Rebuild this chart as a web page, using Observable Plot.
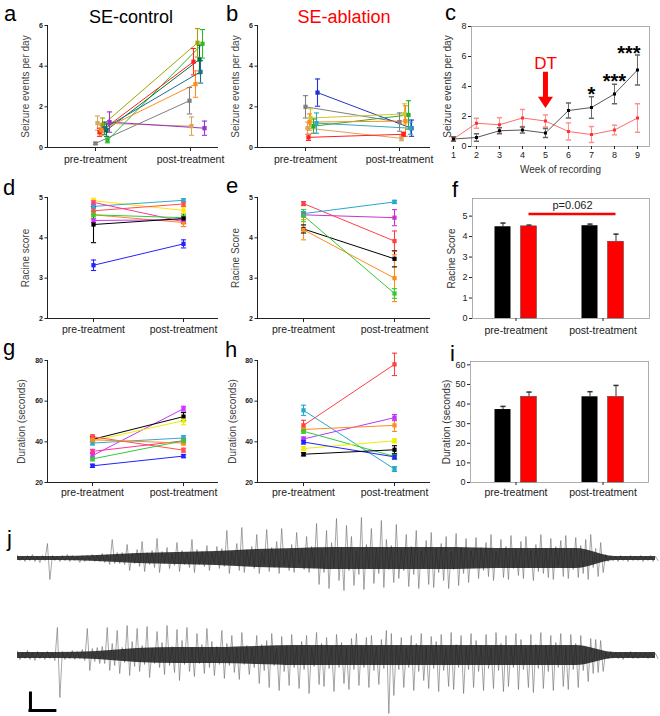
<!DOCTYPE html>
<html><head><meta charset="utf-8">
<script src="https://cdn.jsdelivr.net/npm/d3@7"></script>
<script src="https://cdn.jsdelivr.net/npm/@observablehq/plot@0.6"></script>
<style>
body{margin:0;background:#fff;}
#fig{position:relative;width:660px;height:716px;overflow:hidden;background:#fff;font-family:"Liberation Sans",Arial,sans-serif;}
#fig > div.p{position:absolute;}
</style></head><body><div id="fig"></div><script>
// ---------------- DATA ----------------
const phases = ["pre-treatment", "post-treatment"];
const groups = ["SE-control", "SE-ablation"];
const panelLetters = ["a","b","c","d","e","f","g","h","i","j"];

// a: SE-control, seizure events per day (mean, SEM) per animal
const aColors = ["#808080","#d9a65c","#9933cc","#a3a300","#2eb82e","#00703c","#ff2020","#1f6f8b","#ff8c1a"];
const aPre     = [0.2, 1.2, 1.25, 1.1, 0.35, 0.85, 0.75, 0.95, 0.85];
const aPreErr  = [0.05,0.35,0.5, 0.35,0.12, 0.3, 0.2, 0.3, 0.25];
const aPost    = [2.3, 1.05,0.95, 5.15,5.1, 4.33, 4.22,3.72, 3.12];
const aPostErr = [0.65,0.45,0.35,0.7, 0.7, 0.7, 0.65,0.55, 0.65];

// b: SE-ablation, seizure events per day
const bColors = ["#808080","#2233cc","#c8c832","#2eaa2e","#ff8c1a","#33aabb","#d9a65c","#ff2020"];
const bPre     = [2.0, 2.7, 1.45,1.05,1.25,1.2, 0.95,0.5];
const bPreErr  = [0.55,0.67,0.45,0.35,0.4, 0.5, 0.3, 0.15];
const bPost    = [1.25,0.95,1.65,1.6, 1.3, 0.95,0.45,0.65];
const bPostErr = [0.45,0.4, 0.5, 0.7, 0.75,0.3, 0.12,0.1];

// c: weekly seizure events per day
const weeks    = [1,2,3,4,5,6,7,8,9];
const cCtrl    = [0.5, 0.6, 1.05,1.1, 0.9, 2.4, 2.6, 3.5, 5.1];
const cCtrlErr = [0.15,0.25,0.2, 0.2, 0.3, 0.5, 0.72,0.65,1.0];
const cAbl     = [0.5, 1.55,1.45,1.9, 1.7, 1.0, 0.8, 1.1, 1.9];
const cAblErr  = [0.1, 0.33,0.47,0.57,0.4, 0.57,0.53,0.32,0.95];
const cStars   = [{w:7, y:3.8, label:"*"}, {w:8, y:4.67, label:"***"}, {w:8.63, y:6.5, label:"***"}];
const cDT      = {w:5, text:"DT", label:5.55, top:4.95, shaftEnd:3.2, head:2.95};

// d: SE-control Racine score
const dColors = ["#ffe600","#33aacc","#ff5050","#ff3399","#ff8c1a","#33cc33","#cc33ff","#000000","#2222ff"];
const dPre     = [4.92,4.78,4.67,4.88,4.57,4.57,4.43,4.33,3.32];
const dPreErr  = [0.06,0.05,0.08,0.05,0.1, 0.08,0.05,0.45,0.13];
const dPost    = [4.68,4.93,4.84,4.4, 4.38,4.5, 4.45,4.48,3.85];
const dPostErr = [0.08,0.04,0.06,0.12,0.1, 0.06,0.05,0.12,0.1];

// e: SE-ablation Racine score
const eColors = ["#ff4040","#22aacc","#cc33cc","#000000","#ff8c1a","#33cc33"];
const ePre     = [4.85,4.6, 4.57,4.22,4.2, 4.55];
const ePreErr  = [0.05,0.05,0.05,0.1, 0.25,0.15];
const ePost    = [3.92,4.89,4.5, 3.48,3.0, 2.62];
const ePostErr = [0.25,0.04,0.2, 0.2, 0.58,0.12];

// f: group Racine score [pre, post] x [control, ablation]
const fVals = [[4.48, 4.5], [4.53, 3.75]];
const fErrs = [[0.18, 0.06], [0.08, 0.37]];
const fSig  = {label:"p=0.062", y:5.1};

// g: SE-control duration (s)
const gColors = ["#cc33ff","#000000","#eeee00","#33aacc","#ff5050","#ff3399","#ff8c1a","#33cc33","#2222ff"];
const gPre     = [33.2,41.2,40.5,39.4,42.5,35.3,41, 31.6,28.2];
const gPreErr  = [1.5, 1.5, 1,   1,   1,   1,   1,   1,   0.8];
const gPost    = [56.3,52.4,50.4,41.9,35.9,40.5,39.4,40.5,33];
const gPostErr = [1.2, 2,   2,   1.2, 1,   1.2, 1,   1,   0.8];

// h: SE-ablation duration (s)
const hColors = ["#ff4040","#22aacc","#bb33ff","#ff8c1a","#33cc33","#eeee00","#2222ff","#000000"];
const hPre     = [48.1,55.5,41.4,46.1,45.2,36.7,39.9,33.9];
const hPreErr  = [2.5, 2.5, 1,   1,   1,   1,   1,   0.8];
const hPost    = [78.1,26.6,51.9,48.1,32.8,40.5,32.6,36.1];
const hPostErr = [5.5, 1.2, 1.5, 3,   1.5, 1,   1,   2];

// i: group duration (s)
const iVals = [[37.2, 43.7], [43.7, 43.7]];
const iErrs = [[1.6, 2.4], [2.6, 5.8]];

// j: EEG traces, per-sample upward / downward excursion (a.u.)
const t1Hi = [3,2,3,4,2,3,15,3,2,3,4,3,2,3,3,4,3, 5,4,19,6,
  6,14,5,9,17,6,8,20,7,11,5,16,8,6,19,9,7,13,6,12,
  10,28,7,15,31,9,12,24,6,29,11,17,30,8,14,26,9,22,
  12,35,9,28,16,40,11,33,22,8,41,14,30,10,38,19,13,34,
  9,24,12,28,8,18,26,10,15,22,7,25,11,20,
  8,21,11,16,24,7,19,12,23,9,17,22,8,14,24,10,20,12,18,23,9,21,13,19,24,10,16,
  4,3,2,3,2,3,2,3,2,3,2];
const t1Lo = [2,3,2,3,4,2,21,2,3,2,3,2,4,3,2,3,3, 4,6,5,5,
  6,12,5,8,13,6,9,14,5,10,7,13,6,9,14,6,8,12,5,10,
  8,15,6,12,14,7,10,15,6,13,9,15,7,12,14,6,11,14,
  10,26,14,30,9,22,32,12,27,16,31,10,25,15,29,11,24,20,
  12,28,16,30,10,26,29,14,22,30,11,27,15,24,
  9,20,12,18,22,8,19,21,10,17,20,9,22,13,15,19,21,8,18,20,11,19,15,21,9,18,14,
  3,2,3,2,3,2,2,3,2,3,2];
const t1Core = [2,2,3,5,6,7,9,10,11,11,11,11,10,10,10,2,2];
const t2Hi = [4,3,5,3,4,3,4,3,28,4,3,5,4, 6,27,7,8,
  9,28,12,25,8,30,14,27,10,29,7,24,13,30,9,26,15,28,8,22,11,27,14,9,25,12,20,8,23,10,
  8,20,11,15,22,7,19,10,21,9,14,20,8,23,12,18,9,21,13,8,17,22,10,18,20,9,16,
  25,22,
  10,18,8,20,12,22,9,19,14,21,8,23,11,20,9,22,15,10,21,8,23,12,20,9,22,16,8,21,11,23,10,20,13,22,9,21,12,20,8,
  17,16,15,
  3,4,3,2,3,4,3,2,3,3,2];
const t2Lo = [4,3,4,5,3,4,3,5,42,4,3,4,3, 5,15,6,8,
  8,15,10,18,7,20,11,16,9,22,8,12,19,10,17,25,9,16,21,8,18,12,20,9,23,10,17,24,9,19,
  12,28,15,32,10,35,16,30,12,33,14,38,11,29,31,13,36,12,28,34,14,30,12,32,15,29,13,
  58,40,
  14,32,12,35,16,25,33,13,36,15,31,34,12,38,14,32,16,35,13,33,15,36,31,12,34,14,32,37,13,33,16,35,12,31,34,14,32,15,26,
  18,17,16,
  3,2,3,4,2,3,3,2,3,2,3];
const t2Core = [3,3,4,7,8,8,9,10,10,10,10,10,10,10,10,3,3];
const scaleBar = {t:2.6, t2:7.6, v:-55, v2:-38};

// ---------------- RENDER ----------------
const FONT = "'Liberation Sans', Arial, Helvetica, sans-serif";
const fig = document.getElementById("fig");
function place(node, left, top, width) {
  const d = document.createElement("div");
  d.className = "p"; d.style.left = left + "px"; d.style.top = top + "px"; d.style.width = width + "px";
  d.appendChild(node); fig.appendChild(d);
}
const CAP = {draw(ctx, size) { const r = Math.sqrt(size / Math.PI); ctx.moveTo(-r, 0); ctx.lineTo(r, 0); }};
const DOWN = {draw(ctx, size) { const r = Math.sqrt(size / Math.PI);
  ctx.moveTo(-r, -0.75 * r); ctx.lineTo(r, -0.75 * r); ctx.lineTo(0, 0.75 * r); ctx.closePath(); }};
const baseStyle = {background: "transparent", overflow: "visible", fontFamily: FONT, color: "#222"};
const intFmt = d => String(d);
const yLabel = (text, dx, fill) => Plot.text([text], {text: d => d, frameAnchor: "left", dx, rotate: -90, textAnchor: "middle", fontSize: 10, fill});

function pairedPlot(sp, L) {
  const k = L.postX - L.preX;
  const x0 = L.left + L.mL, x1 = L.left + L.width - L.mR;
  const xd = [(x0 - L.preX) / k, (x1 - L.preX) / k];
  const rows = [];
  sp.colors.forEach((c, i) => {
    rows.push({s: i, color: c, x: (L.jit ? L.jit[0][i] : 0) / k, v: sp.pre[i], e: sp.preErr[i]});
    rows.push({s: i, color: c, x: 1 + (L.jit ? L.jit[1][i] : 0) / k, v: sp.post[i], e: sp.postErr[i]});
  });
  const p = Plot.plot({
    width: L.width, height: L.height, marginLeft: L.mL, marginRight: L.mR, marginTop: L.mT, marginBottom: L.mB,
    style: baseStyle,
    x: {domain: xd}, y: {domain: sp.yd}, color: {type: "identity"},
    marks: [
      Plot.axisY({ticks: sp.ticks, tickFormat: intFmt, tickSize: 2.5, tickPadding: 2, fontSize: 7, fontWeight: "bold", label: null}),
      Plot.axisX({ticks: [0, 1], tickFormat: i => phases[i], tickSize: 4, tickPadding: L.tp, fontSize: 10.5, label: null}),
      Plot.ruleY([sp.yd[0]], {stroke: "#222"}),
      Plot.ruleX([xd[0]], {stroke: "#222"}),
      Plot.line(rows, {x: "x", y: "v", z: "s", stroke: "color", strokeWidth: 1}),
      Plot.ruleX(rows, {x: "x", y1: d => d.v - d.e, y2: d => d.v + d.e, stroke: "color", strokeWidth: 1.1}),
      Plot.dot(rows, {x: "x", y: d => d.v + d.e, symbol: CAP, r: 2.6, stroke: "color", fill: "none", strokeWidth: 1.1}),
      Plot.dot(rows, {x: "x", y: d => d.v - d.e, symbol: CAP, r: 2.6, stroke: "color", fill: "none", strokeWidth: 1.1}),
      Plot.dot(rows, {x: "x", y: "v", symbol: "square", r: 2.4, fill: "color"}),
      yLabel(sp.ylab, L.labDx, "#444")
    ]
  });
  place(p, L.left, L.top, L.width);
}

function plotC(L) {
  const k = (L.x9 - L.x1) / 8;
  const xd = [1 - (L.left + L.mL - L.x1) / k, 9 + (L.left + L.width - L.mR - L.x9) / k];
  const ctrl = weeks.map((w, i) => ({w, v: cCtrl[i], e: cCtrlErr[i]}));
  const abl = weeks.map((w, i) => ({w, v: cAbl[i], e: cAblErr[i]}));
  const series = (rows, line, err, dot) => [
    Plot.ruleX(rows, {x: "w", y1: d => d.v - d.e, y2: d => d.v + d.e, stroke: err, strokeWidth: 1}),
    Plot.dot(rows, {x: "w", y: d => d.v + d.e, symbol: CAP, r: 2.6, stroke: err, fill: "none"}),
    Plot.dot(rows, {x: "w", y: d => d.v - d.e, symbol: CAP, r: 2.6, stroke: err, fill: "none"}),
    Plot.line(rows, {x: "w", y: "v", stroke: line, strokeWidth: 0.9}),
    Plot.dot(rows, {x: "w", y: "v", symbol: "square", r: 1.7, fill: dot})
  ];
  const p = Plot.plot({
    width: L.width, height: L.height, marginLeft: L.mL, marginRight: L.mR, marginTop: L.mT, marginBottom: L.mB,
    style: baseStyle, x: {domain: xd}, y: {domain: [0, 8]},
    marks: [
      Plot.frame({stroke: "#999", strokeWidth: 0.8}),
      Plot.axisY({ticks: [0, 2, 4, 6, 8], tickFormat: intFmt, tickSize: 3, tickPadding: 2, fontSize: 9, label: null}),
      Plot.axisX({ticks: weeks, tickFormat: intFmt, tickSize: 3, tickPadding: 2, fontSize: 9, label: null}),
      ...series(abl, "#ff5a5a", "#ff9090", "#ff3030"),
      ...series(ctrl, "#444", "#666", "#000"),
      Plot.text(cStars, {x: "w", y: "y", text: "label", fontSize: 20, fontWeight: "bold", dy: 5, fill: "#000"}),
      Plot.ruleX([cDT], {x: "w", y1: "top", y2: "shaftEnd", stroke: "#ff0000", strokeWidth: 5}),
      Plot.dot([cDT], {x: "w", y: "head", symbol: DOWN, r: 7.5, fill: "#ff0000", stroke: "none"}),
      Plot.text([cDT], {x: "w", y: "label", text: "text", fill: "#ff0000", fontSize: 17}),
      yLabel("Seizure events per day", L.labDx, "#333"),
      Plot.text(["Week of recording"], {text: d => d, frameAnchor: "bottom", dy: 26, fontSize: 10, fill: "#333"})
    ]
  });
  place(p, L.left, L.top, L.width);
}

function barPlot(vals, errs, L, sp) {
  const k = L.postX - L.preX;
  const xd = [(L.left + L.mL - L.preX) / k, (L.left + L.width - L.mR - L.preX) / k];
  const off = [-13 / k, 13 / k], half = 8 / k;
  const rows = phases.flatMap((ph, pi) => groups.map((g, gi) => ({pi, gi, x: pi + off[gi], v: vals[pi][gi], e: errs[pi][gi]})));
  const fills = ["#000000", "#ff0000"];
  const marks = [
    Plot.frame({stroke: "#999", strokeWidth: 0.8}),
    Plot.axisY({ticks: sp.ticks, tickFormat: intFmt, tickSize: 3, tickPadding: 2, fontSize: 9, label: null}),
    Plot.axisX({ticks: [0, 1], tickFormat: i => phases[i], tickSize: 3, tickPadding: L.tp, fontSize: 10.5, label: null}),
    Plot.ruleX(rows, {x: "x", y1: "v", y2: d => d.v + d.e, stroke: "#333", strokeWidth: 1}),
    Plot.dot(rows, {x: "x", y: d => d.v + d.e, symbol: CAP, r: 2.6, stroke: "#333", fill: "none"}),
    Plot.rectY(rows, {x1: d => d.x - half, x2: d => d.x + half, y1: 0, y2: "v", fill: d => fills[d.gi],
      stroke: d => d.gi ? "#444" : "none", strokeWidth: 0.5}),
    yLabel(sp.ylab, L.labDx, "#333")
  ];
  if (sp.sig) {
    const ends = [0 + off[1], 1 + off[1]];
    marks.push(Plot.ruleY([sp.sig], {y: "y", x1: () => ends[0], x2: () => ends[1], stroke: "#ff0000", strokeWidth: 2.5}));
    marks.push(Plot.text([sp.sig], {x: () => (ends[0] + ends[1]) / 2, y: "y", text: "label", dy: -9, fontSize: 11, fill: "#222"}));
  }
  const p = Plot.plot({
    width: L.width, height: L.height, marginLeft: L.mL, marginRight: L.mR, marginTop: L.mT, marginBottom: L.mB,
    style: baseStyle, x: {domain: xd}, y: {domain: sp.yd}, color: {type: "identity"},
    marks
  });
  place(p, L.left, L.top, L.width);
}

function tracePlot(hi, lo, core, L) {
  const pts = [];
  hi.forEach((h, i) => { pts.push({t: i, v: h}); pts.push({t: i + 0.5, v: -lo[i]}); });
  const step = (hi.length - 1) / (core.length - 1);
  const coreRows = core.map((c, k) => ({t: k * step, c}));
  const marks = [
    Plot.line(pts, {x: "t", y: "v", stroke: "#6a6a6a", strokeWidth: 0.6}),
    Plot.areaY(coreRows, {x: "t", y1: d => -d.c, y2: d => d.c, fill: "#1c1c1c", fillOpacity: 0.85, curve: "monotone-x"})
  ];
  if (L.bar) {
    marks.push(Plot.ruleX([L.bar], {x: "t", y1: "v", y2: "v2", stroke: "#000", strokeWidth: 3, strokeLinecap: "square"}));
    marks.push(Plot.ruleY([L.bar], {y: "v", x1: "t", x2: "t2", stroke: "#000", strokeWidth: 3, strokeLinecap: "square"}));
  }
  const p = Plot.plot({
    width: L.width, height: L.height, marginLeft: L.mL, marginRight: L.mR, marginTop: 0, marginBottom: 0,
    style: baseStyle, x: {domain: [0, hi.length - 0.5], axis: null}, y: {domain: L.yd, axis: null},
    marks
  });
  place(p, L.left, L.top, L.width);
}

pairedPlot({colors: aColors, pre: aPre, preErr: aPreErr, post: aPost, postErr: aPostErr, yd: [0, 6], ticks: [0, 2, 4, 6], ylab: "Seizure events per day"},
  {left: 0, top: 0, width: 232, height: 170, mL: 47, mR: 14, mT: 25, mB: 23, preX: 95, postX: 190, tp: 4, labDx: -22,
   jit: [[0, 2, 14, 7, 12, 11, 4, 9, 6], [-1, 1, 14, 7, 12, 9, 3, 10, 5]]});
pairedPlot({colors: bColors, pre: bPre, preErr: bPreErr, post: bPost, postErr: bPostErr, yd: [0, 6], ticks: [0, 2, 4, 6], ylab: "Seizure events per day"},
  {left: 210, top: 0, width: 232, height: 170, mL: 47, mR: 12, mT: 25, mB: 23, preX: 305, postX: 399, tp: 4, labDx: -22,
   jit: [[0, 12, 5, 8, 4, 11, 2, 3], [0, 12, 5, 9, 6, 11, 2, 4]]});
plotC({left: 430, top: 0, width: 230, height: 185, mL: 41, mR: 11, mT: 26, mB: 39, x1: 486, x9: 639, labDx: -24});

pairedPlot({colors: dColors, pre: dPre, preErr: dPreErr, post: dPost, postErr: dPostErr, yd: [2, 5], ticks: [2, 3, 4, 5], ylab: "Racine score"},
  {left: 0, top: 160, width: 232, height: 185, mL: 47, mR: 14, mT: 37, mB: 27, preX: 93, postX: 183, tp: 3, labDx: -22});
pairedPlot({colors: eColors, pre: ePre, preErr: ePreErr, post: ePost, postErr: ePostErr, yd: [2, 5], ticks: [2, 3, 4, 5], ylab: "Racine Score"},
  {left: 210, top: 160, width: 232, height: 185, mL: 47, mR: 12, mT: 37, mB: 27, preX: 303, postX: 394, tp: 3, labDx: -22});
barPlot(fVals, fErrs, {left: 430, top: 160, width: 230, height: 185, mL: 42, mR: 11, mT: 38, mB: 27, preX: 515.5, postX: 602.5, tp: 5, labDx: -21},
  {yd: [0, 5.86], ticks: [0, 1, 2, 3, 4, 5], ylab: "Racine Score", sig: fSig});

pairedPlot({colors: gColors, pre: gPre, preErr: gPreErr, post: gPost, postErr: gPostErr, yd: [20, 80], ticks: [20, 40, 60, 80], ylab: "Duration (seconds)"},
  {left: 0, top: 330, width: 232, height: 185, mL: 47, mR: 14, mT: 30, mB: 33, preX: 92, postX: 183, tp: 2, labDx: -26});
pairedPlot({colors: hColors, pre: hPre, preErr: hPreErr, post: hPost, postErr: hPostErr, yd: [20, 80], ticks: [20, 40, 60, 80], ylab: "Duration (seconds)"},
  {left: 210, top: 330, width: 232, height: 185, mL: 47, mR: 12, mT: 30, mB: 33, preX: 303, postX: 394, tp: 2, labDx: -25});
barPlot(iVals, iErrs, {left: 430, top: 330, width: 230, height: 185, mL: 40, mR: 12, mT: 31, mB: 33, preX: 515.5, postX: 602.5, tp: 3, labDx: -24},
  {yd: [0, 61.7], ticks: [0, 10, 20, 30, 40, 50, 60], ylab: "Duration (seconds)"});

tracePlot(t1Hi, t1Lo, t1Core, {left: 0, top: 511, width: 660, height: 100, mL: 17, mR: 2.5, yd: [-53, 47]});
tracePlot(t2Hi, t2Lo, t2Core, {left: 0, top: 610, width: 660, height: 106, mL: 17, mR: 2.5, yd: [-61, 45], bar: scaleBar});

// panel letters and titles
const ov = d3.create("svg").attr("width", 660).attr("height", 716)
  .style("position", "absolute").style("left", "0px").style("top", "0px").style("pointer-events", "none")
  .style("font-family", FONT);
const letterPos = [[4,21],[226,21],[445,20],[3,195],[226,193],[452,197],[3,355],[225,357],[450,361],[7,546]];
panelLetters.forEach((t, i) => ov.append("text").attr("x", letterPos[i][0]).attr("y", letterPos[i][1])
  .attr("font-size", 22).attr("fill", "#000").text(t));
ov.append("text").attr("x", 131).attr("y", 23).attr("text-anchor", "middle").attr("font-size", 18).attr("fill", "#000").text(groups[0]);
ov.append("text").attr("x", 344).attr("y", 23).attr("text-anchor", "middle").attr("font-size", 18).attr("fill", "#ff0000").text(groups[1]);
fig.appendChild(ov.node());
</script></body></html>
